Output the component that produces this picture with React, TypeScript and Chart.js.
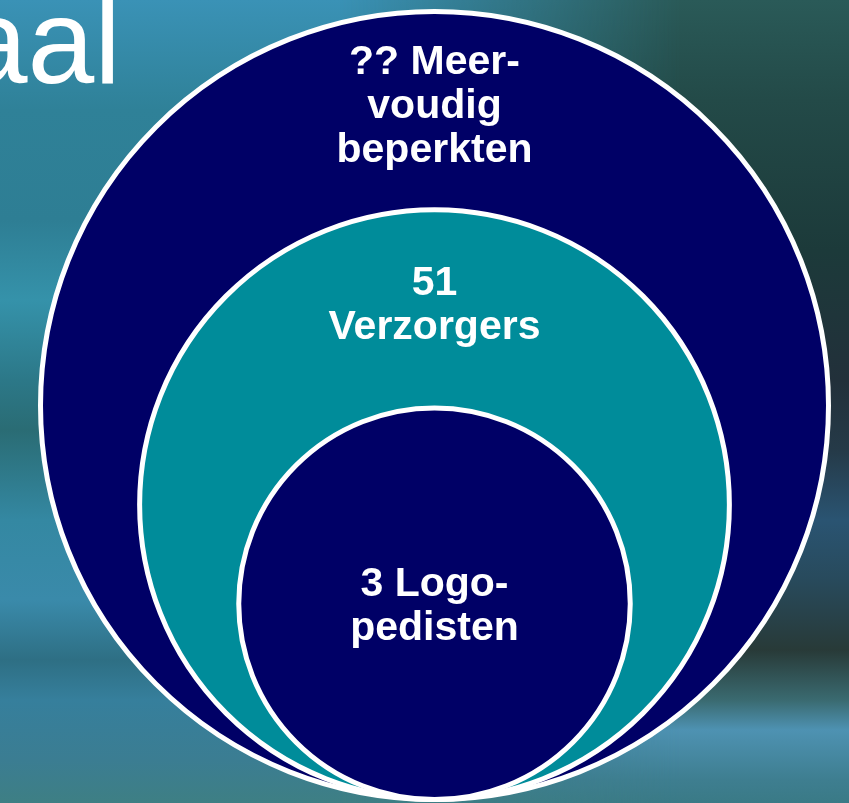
import React, { useEffect, useRef } from "react";
import { Chart, registerables } from "chart.js";

Chart.register(...registerables);

// ---- data ----
const groups = ["Meervoudig beperkten", "Verzorgers", "Logopedisten"];
const counts = ["??", "51", "3"];
const labelLines = [
  ["?? Meer-", "voudig", "beperkten"],
  ["51", "Verzorgers"],
  ["3 Logo-", "pedisten"],
];
// radius of each circle relative to the outer circle (all touch at the bottom)
const relativeSize = [1, 0.75, 0.5];
const fillColors = ["#000066", "#008C9A", "#000066"];
const headingFragment = "aal";

const BORDER = 5;
const FONT = '"Liberation Sans", Arial, Helvetica, sans-serif';

const labelPlugin = {
  id: "circleLabels",
  afterDatasetsDraw(chart: any) {
    const ctx = chart.ctx;
    const meta = chart.getDatasetMeta(0);
    const els = meta.data;
    ctx.save();
    ctx.fillStyle = "#ffffff";
    ctx.textAlign = "center";
    ctx.textBaseline = "alphabetic";
    const size = 41;
    ctx.font = `bold ${size}px ${FONT}`;
    const lineH = 44;
    const cap = size * 0.716;
    els.forEach((el: any, i: number) => {
      const r = el.options.radius;
      const top = el.y - r;
      let mid: number;
      if (i < els.length - 1) {
        const nx = els[i + 1];
        mid = (top + (nx.y - nx.options.radius)) / 2 - 7;
      } else {
        mid = el.y;
      }
      const lines = labelLines[i];
      const block = cap + (lines.length - 1) * lineH;
      let base = mid - block / 2 + cap;
      lines.forEach((ln) => {
        ctx.fillText(ln, el.x, base);
        base += lineH;
      });
    });
    ctx.restore();
  },
  beforeDatasetsDraw(chart: any) {
    const ctx = chart.ctx;
    ctx.save();
    ctx.fillStyle = "#ffffff";
    ctx.font = `120px ${FONT}`;
    ctx.textAlign = "right";
    ctx.textBaseline = "alphabetic";
    ctx.fillText(headingFragment, 121, 83);
    ctx.restore();
  },
};

export default function App() {
  const ref = useRef<HTMLCanvasElement>(null);

  useEffect(() => {
    if (!ref.current) return;
    const radiusFor = (c: any) => {
      const sx = c.chart.scales.x;
      const r = relativeSize[c.dataIndex];
      return Math.abs(sx.getPixelForValue(r) - sx.getPixelForValue(0)) - BORDER / 2;
    };
    const chart = new Chart(ref.current, {
      type: "scatter",
      data: {
        labels: groups,
        datasets: [
          {
            label: "Doelgroepen",
            data: relativeSize.map((r, i) => ({ x: 0, y: -1 + r, label: groups[i], count: counts[i] })) as any,
            clip: false as any,
            pointStyle: "circle",
            pointRadius: radiusFor,
            pointHoverRadius: radiusFor,
            pointBackgroundColor: fillColors,
            pointHoverBackgroundColor: fillColors,
            pointBorderColor: "#ffffff",
            pointHoverBorderColor: "#ffffff",
            pointBorderWidth: BORDER,
            pointHoverBorderWidth: BORDER,
          } as any,
        ],
      },
      options: {
        responsive: false,
        animation: false,
        events: [],
        layout: { padding: { left: 38, right: 18, top: 9, bottom: 1 } },
        scales: {
          x: { type: "linear", min: -1, max: 1, display: false },
          y: { type: "linear", min: -1, max: 1, display: false },
        },
        plugins: {
          legend: { display: false },
          tooltip: { enabled: false },
          title: { display: false },
        },
      },
      plugins: [labelPlugin],
    });
    return () => chart.destroy();
  }, []);

  const base =
    "linear-gradient(180deg, #3a92b6 0px, #2f8198 110px, #2e7e94 220px, #3592aa 300px, #2c7888 380px, #2a6c74 430px, #3488a2 520px, #3a8aaa 600px, #2e6f84 660px, #367f9c 700px, #3b7d92 760px, #3e7f84 803px)";
  const right =
    "linear-gradient(180deg, #2a5a58 0px, #234a48 100px, #1c3a3a 250px, #22303a 380px, #253a48 450px, #2a5472 520px, #284a5c 580px, #283a38 650px, #3a6a70 700px, #4e92b2 730px, #3e7e90 780px, #3a7a86 803px)";
  const mask = "linear-gradient(to right, transparent 0%, transparent 40%, black 80%)";

  return (
    <div
      style={{
        position: "absolute",
        left: 0,
        top: 0,
        width: 849,
        height: 803,
        overflow: "hidden",
        background: base,
      }}
    >
      <div
        style={{
          position: "absolute",
          inset: 0,
          background: right,
          WebkitMaskImage: mask,
          maskImage: mask,
        } as any}
      />
      <canvas
        ref={ref}
        width={849}
        height={803}
        style={{ position: "absolute", left: 0, top: 0, width: 849, height: 803 }}
      />
    </div>
  );
}
